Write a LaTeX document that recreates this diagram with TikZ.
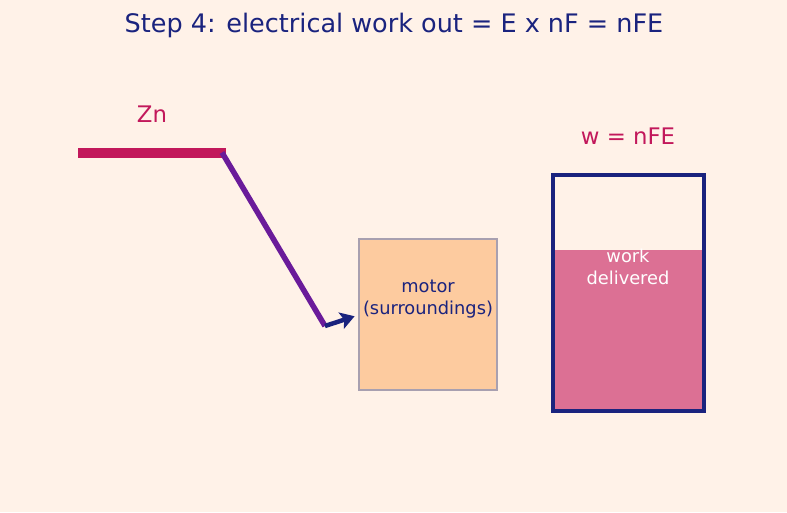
\documentclass[tikz,border=0pt]{standalone}
\usepackage{fontspec}
\setmainfont{DejaVu Sans}
\usepackage{tikz}
\usetikzlibrary{positioning,arrows.meta}

\definecolor{bgcream}{HTML}{FFF2E8}
\definecolor{navy}{HTML}{1A237E}
\definecolor{crimson}{HTML}{C2185B}
\definecolor{wirepurple}{HTML}{6A1B9A}
\definecolor{motorfill}{HTML}{FDCB9F}
\definecolor{motorline}{HTML}{A8A0B0}
\definecolor{workpink}{HTML}{DC7094}

\begin{document}
\begin{tikzpicture}[x=1pt,y=-1pt,
    label/.style = {font=\fontsize{17.8}{21.5}\selectfont, align=center, inner sep=0pt},
    tag/.style = {text=crimson, font=\fontsize{22.8}{26}\selectfont, inner sep=0pt},
    box/.style = {draw=motorline, fill=motorfill, line width=1.2pt, minimum width=138pt, minimum height=151pt, inner sep=0pt}]
    \fill[bgcream] (0,0) rectangle (787,512);
    \useasboundingbox (0,0) rectangle (787,512);

    % title
    \node[text=navy, font=\fontsize{25.5}{30}\selectfont] (title) at (394,25) {Step 4: electrical work out = E x nF = nFE};

    % zinc electrode and wire
    \coordinate (znL) at (78,152.5);
    \coordinate (znR) at (226,152.5);
    \coordinate (bend) at (325,326);
    \node[tag] (zn) at (152,114) {Zn};
    \draw[crimson, line width=10pt] (znL) -- (znR);
    \draw[wirepurple, line width=5.5pt] (222,152.5) -- (bend);

    % motor
    \node[box] (motor) at (428,314.5) {};
    \node[label, text=navy] (motortext) at (428,299) {motor\\(surroundings)};
    \draw[navy, line width=4.5pt, -{Stealth[length=14pt,width=17pt,inset=3pt]}, shorten >=4pt] (bend) -- (motor.west |- 0,315);

    % work tank
    \fill[workpink] (553,250) rectangle (704,411);
    \draw[navy, line width=3.8pt] (553,175) rectangle (704,411);
    \node[tag] (w) at (628,136) {w = nFE};
    \node[label, text=white] (work) at (628,267) {work\\delivered};
\end{tikzpicture}
\end{document}
